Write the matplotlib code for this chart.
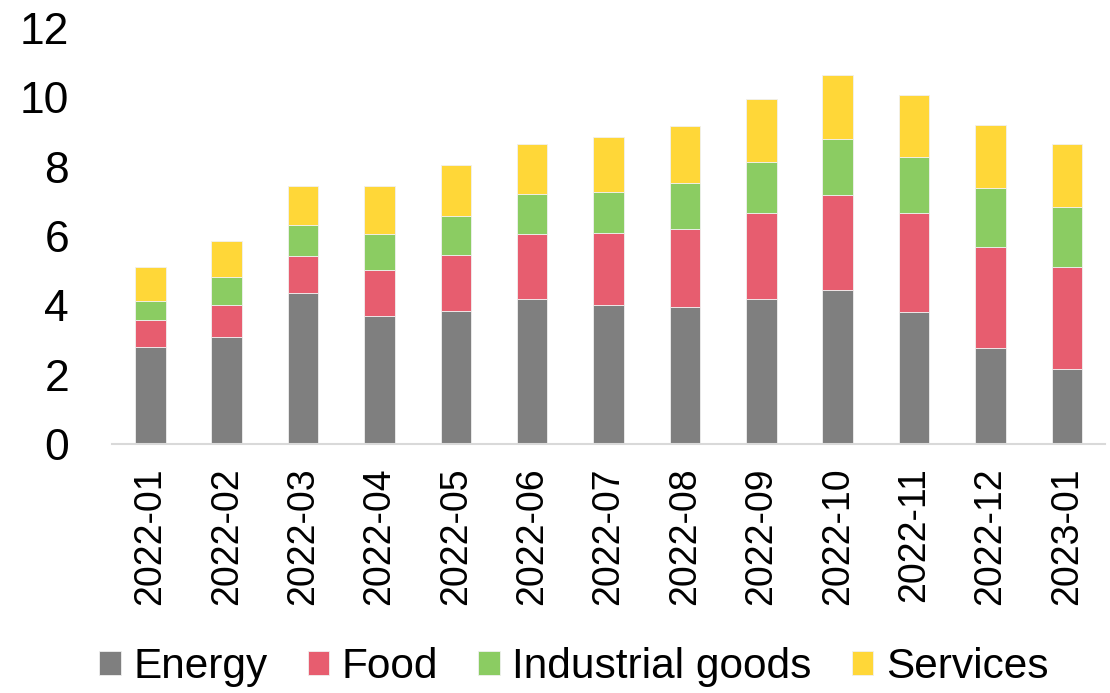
import matplotlib
matplotlib.use("Agg")
import matplotlib.pyplot as plt
import numpy as np

months = ["2022-01", "2022-02", "2022-03", "2022-04", "2022-05", "2022-06", "2022-07",
          "2022-08", "2022-09", "2022-10", "2022-11", "2022-12", "2023-01"]
energy = [2.80, 3.10, 4.36, 3.69, 3.85, 4.18, 4.01, 3.94, 4.18, 4.44, 3.81, 2.78, 2.15]
food = [0.77, 0.91, 1.06, 1.34, 1.61, 1.89, 2.09, 2.25, 2.47, 2.74, 2.84, 2.89, 2.95]
industrial = [0.55, 0.82, 0.91, 1.04, 1.12, 1.15, 1.17, 1.35, 1.49, 1.63, 1.64, 1.71, 1.74]
services = [0.99, 1.04, 1.12, 1.38, 1.47, 1.43, 1.60, 1.62, 1.81, 1.83, 1.78, 1.83, 1.81]

series = [("Energy", energy, "#7F7F7F"),
          ("Food", food, "#E75D6F"),
          ("Industrial goods", industrial, "#8BCC62"),
          ("Services", services, "#FFD738")]

plt.rcParams['font.family'] = ['Liberation Sans', 'DejaVu Sans']

fig = plt.figure(figsize=(11.1, 6.93), dpi=100)
ax = fig.add_axes([0.101, 0.3593, 0.8945, 0.6003])

x = np.arange(len(months))
bottom = np.zeros(len(months))
for name, vals, col in series:
    v = np.array(vals)
    ax.bar(x, v, width=0.4, bottom=bottom, color=col, label=name,
           edgecolor="#F0F0F0", linewidth=0.6)
    bottom += v

ax.set_xlim(-0.5, len(months) - 0.5)
ax.set_ylim(0, 12)
ax.set_yticks(np.arange(0, 13, 2))
ax.set_xticks(x)
ax.set_xticklabels(months, rotation=90, fontsize=27)
ax.tick_params(axis='y', labelsize=32, length=0, pad=31)
ax.tick_params(axis='x', length=0, pad=17)
for s in ["top", "right", "left"]:
    ax.spines[s].set_visible(False)
ax.spines["bottom"].set_color("#D9D9D9")
ax.spines["bottom"].set_linewidth(1.5)

handles, labels = ax.get_legend_handles_labels()
fig.legend(handles, labels, loc="center", bbox_to_anchor=(0.517, 0.038), ncol=4,
           frameon=False, fontsize=30.5, handlelength=0.5, handleheight=0.5,
           handletextpad=0.3, columnspacing=0.95, borderaxespad=0)

fig.savefig("out.png", dpi=100)
